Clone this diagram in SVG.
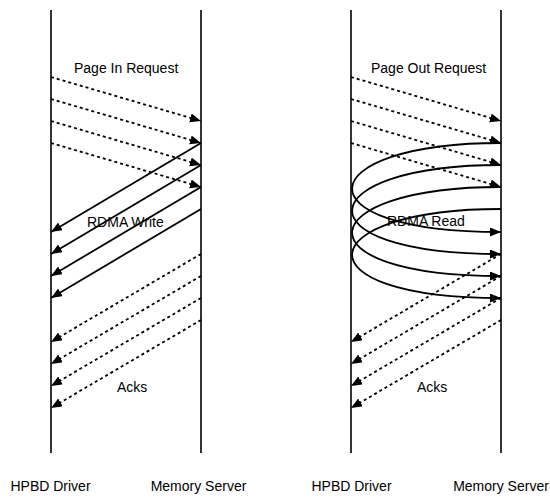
<svg xmlns="http://www.w3.org/2000/svg" width="550" height="497" viewBox="0 0 550 497">
<style>
text{font-family:"Liberation Sans",Arial,sans-serif;font-size:14px;fill:#000}
.life{stroke:#000;stroke-width:1.6;fill:none}
.dot{stroke:#000;stroke-width:1.8;stroke-dasharray:3,3;fill:none;marker-end:url(#ah)}
.sol{stroke:#000;stroke-width:1.8;fill:none;marker-end:url(#ah)}
</style>
<defs>
<marker id="ah" markerUnits="userSpaceOnUse" markerWidth="12" markerHeight="10" refX="11" refY="4.5" orient="auto">
<path d="M0,0 L11,4.5 L0,9 z" fill="#000"/>
</marker>
</defs>
<g id="lifelines">
<line class="life" x1="51" y1="10" x2="51" y2="453"/>
<line class="life" x1="201" y1="10" x2="201" y2="453"/>
<line class="life" x1="351" y1="10" x2="351" y2="453"/>
<line class="life" x1="501" y1="10" x2="501" y2="453"/>
</g>
<g id="hpbd-left"><text x="50.5" y="491" text-anchor="middle">HPBD Driver</text></g>
<g id="mem-left"><text x="198.5" y="491" text-anchor="middle">Memory Server</text></g>
<g id="hpbd-right"><text x="351.5" y="491" text-anchor="middle">HPBD Driver</text></g>
<g id="mem-right"><text x="501" y="491" text-anchor="middle">Memory Server</text></g>
<g id="labels">
<text x="74" y="73">Page In Request</text>
<text x="371" y="73">Page Out Request</text>
<text x="87" y="227">RDMA Write</text>
<text x="387" y="226">RDMA Read</text>
<text x="117" y="392">Acks</text>
<text x="417" y="392">Acks</text>
</g>
<g id="connectors">
<path class="dot" d="M51,77 L201,121"/>
<path class="dot" d="M51,99 L201,143"/>
<path class="dot" d="M51,121 L201,165"/>
<path class="dot" d="M51,143 L201,187"/>
<path class="sol" d="M201,143 L51,232"/>
<path class="sol" d="M201,165 L51,254"/>
<path class="sol" d="M201,187 L51,276"/>
<path class="sol" d="M201,209 L51,298"/>
<path class="dot" d="M201,254 L51,342"/>
<path class="dot" d="M201,276 L51,364"/>
<path class="dot" d="M201,298 L51,386"/>
<path class="dot" d="M201,320 L51,408"/>
<path class="dot" d="M351,77 L501,121"/>
<path class="dot" d="M351,99 L501,143"/>
<path class="dot" d="M351,121 L501,165"/>
<path class="dot" d="M351,143 L501,187"/>
<path class="sol" d="M501,143 C310,143 295,232 501,232"/>
<path class="sol" d="M501,165 C310,165 295,254 501,254"/>
<path class="sol" d="M501,187 C310,187 295,276 501,276"/>
<path class="sol" d="M501,209 C310,209 295,298 501,298"/>
<path class="dot" d="M501,254 L351,342"/>
<path class="dot" d="M501,276 L351,364"/>
<path class="dot" d="M501,298 L351,386"/>
<path class="dot" d="M501,320 L351,408"/>
</g>
</svg>
